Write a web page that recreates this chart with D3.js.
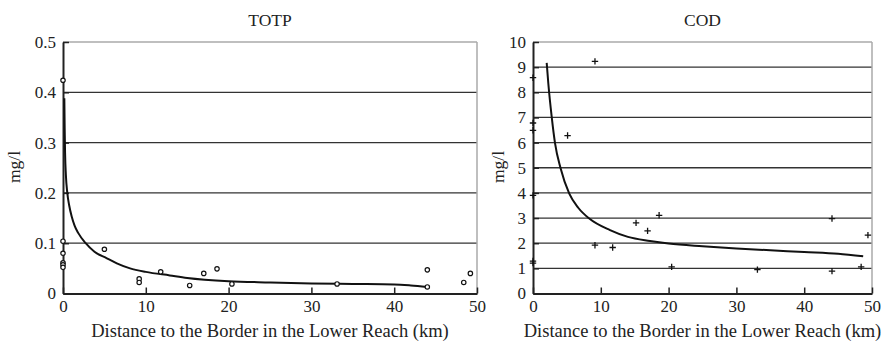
<!DOCTYPE html>
<html>
<head>
<meta charset="utf-8">
<script src="https://cdn.jsdelivr.net/npm/d3@7"></script>
<style>
  body { margin: 0; background: #fff; }
  svg text { font-family: "Liberation Serif", "Times New Roman", serif; fill: #222; }
  .tick text { font-size: 17px; }
  .domain { stroke: #222; stroke-width: 2; }
  .tick line { stroke: #222; stroke-width: 1.5; }
</style>
</head>
<body>
<div id="chart"></div>
<script>
var width = 885, height = 341;

// TOTP observations (km, mg/l)
var totpDist = [0, 0, 0, 0, 0, 0, 5, 9.2, 9.2, 11.8, 15.3, 17, 18.6, 20.4, 33.1, 44, 44, 48.4, 49.2];
var totpVal  = [0.424, 0.104, 0.08, 0.061, 0.057, 0.052, 0.088, 0.029, 0.022, 0.043, 0.016, 0.040, 0.049, 0.019, 0.019, 0.047, 0.013, 0.022, 0.040];
// TOTP fitted curve
var totpFitDist = [0.16, 0.2, 0.25, 0.35, 0.52, 0.75, 1.05, 1.4, 1.85, 2.74, 3.8, 5.3, 6.5, 8.1, 10, 12.9, 15, 20, 25, 30, 35, 40, 42, 44];
var totpFitVal  = [0.388, 0.33, 0.28, 0.235, 0.20, 0.175, 0.153, 0.135, 0.12, 0.10, 0.083, 0.07, 0.06, 0.05, 0.043, 0.036, 0.031, 0.0245, 0.022, 0.020, 0.019, 0.018, 0.016, 0.013];

// COD observations (km, mg/l)
var codDist = [0, 0, 0, 0, 0, 0, 5.1, 9.14, 9.14, 11.75, 15.2, 16.9, 18.6, 20.45, 33.1, 44.1, 44.1, 48.4, 49.4];
var codVal  = [8.58, 6.78, 6.49, 3.9, 1.29, 1.21, 6.28, 9.23, 1.92, 1.83, 2.81, 2.49, 3.11, 1.06, 0.95, 2.98, 0.89, 1.06, 2.32];
// COD fitted curve
var codFitDist = [2.02, 2.26, 2.76, 3.24, 4.08, 5.35, 6.7, 8.3, 11.36, 14, 17.26, 20, 25, 30, 35, 40, 45, 48.7];
var codFitVal  = [9.17, 8.35, 7.02, 5.99, 4.97, 3.97, 3.4, 2.98, 2.52, 2.25, 2.09, 1.99, 1.88, 1.79, 1.72, 1.65, 1.58, 1.48];

var xTicks = [0, 10, 20, 30, 40, 50];
var totpTicks = [0, 0.1, 0.2, 0.3, 0.4, 0.5];
var totpTickLabels = ["0", "0.1", "0.2", "0.3", "0.4", "0.5"];
var codTicks = [0, 1, 2, 3, 4, 5, 6, 7, 8, 9, 10];
var xLabel = "Distance to the Border in the Lower Reach (km)";

var svg = d3.select("#chart")
  .append("svg")
    .attr("width", width)
    .attr("height", height);

function panel(o) {
  var x = d3.scaleLinear().domain([0, 50]).range([o.left, o.right]);
  var y = d3.scaleLinear().domain(o.yDomain).range([293.5, 42]);
  var g = svg.append("g");

  // grid lines (top one is the light frame)
  g.selectAll("line.grid")
      .data(o.yTicks.slice(1))
    .enter().append("line")
      .attr("class", "grid")
      .attr("x1", o.left).attr("x2", o.right)
      .attr("y1", function(d) { return y(d); })
      .attr("y2", function(d) { return y(d); })
      .attr("stroke", function(d) { return d === o.yDomain[1] ? "#aaa" : "#333"; })
      .attr("stroke-width", function(d) { return d === o.yDomain[1] ? 1.5 : 1.3; });

  g.append("line")
      .attr("x1", o.right).attr("x2", o.right)
      .attr("y1", y(o.yDomain[1])).attr("y2", y(0))
      .attr("stroke", "#aaa").attr("stroke-width", 1.5);

  g.append("g")
      .attr("transform", "translate(0," + y(0) + ")")
      .call(d3.axisBottom(x).tickValues(xTicks).tickSize(-6).tickSizeOuter(0).tickPadding(6));

  g.append("g")
      .attr("transform", "translate(" + o.left + ",0)")
      .call(d3.axisLeft(y).tickValues(o.yTicks).tickSize(-6).tickSizeOuter(0).tickPadding(7)
        .tickFormat(function(d, i) { return o.yLabels[i]; }));

  var line = d3.line()
      .x(function(d) { return x(d[0]); })
      .y(function(d) { return y(d[1]); })
      .curve(d3.curveMonotoneX);

  g.append("path")
      .datum(d3.zip(o.fitDist, o.fitVal))
      .attr("d", line)
      .attr("fill", "none")
      .attr("stroke", "#111")
      .attr("stroke-width", 2);

  var pts = d3.zip(o.dist, o.val);
  if (o.marker === "circle") {
    g.selectAll("circle.pt")
        .data(pts)
      .enter().append("circle")
        .attr("class", "pt")
        .attr("cx", function(d) { return x(d[0]); })
        .attr("cy", function(d) { return y(d[1]); })
        .attr("r", 2.2)
        .attr("fill", "#fff")
        .attr("stroke", "#111")
        .attr("stroke-width", 1.2);
  } else {
    g.selectAll("path.pt")
        .data(pts)
      .enter().append("path")
        .attr("class", "pt")
        .attr("d", function(d) {
          var cx = x(d[0]), cy = y(d[1]), s = 3.2;
          return "M" + (cx - s) + "," + cy + "H" + (cx + s) + "M" + cx + "," + (cy - s) + "V" + (cy + s);
        })
        .attr("stroke", "#111")
        .attr("stroke-width", 1.3)
        .attr("fill", "none");
  }

  var cx = (o.left + o.right) / 2;
  g.append("text")
      .attr("x", cx).attr("y", 26)
      .attr("text-anchor", "middle")
      .attr("font-size", 17.5)
      .text(o.title);

  g.append("text")
      .attr("x", cx).attr("y", 337)
      .attr("text-anchor", "middle")
      .attr("font-size", 18.5)
      .text(xLabel);

  g.append("text")
      .attr("transform", "translate(" + o.yLabelX + "," + 167 + ") rotate(-90)")
      .attr("text-anchor", "middle")
      .attr("dy", "0.35em")
      .attr("font-size", 17.5)
      .text("mg/l");
}

panel({
  title: "TOTP", left: 63, right: 477, yDomain: [0, 0.5],
  yTicks: totpTicks, yLabels: totpTickLabels,
  dist: totpDist, val: totpVal, fitDist: totpFitDist, fitVal: totpFitVal,
  marker: "circle", yLabelX: 14
});

panel({
  title: "COD", left: 533, right: 872, yDomain: [0, 10],
  yTicks: codTicks, yLabels: codTicks.map(String),
  dist: codDist, val: codVal, fitDist: codFitDist, fitVal: codFitVal,
  marker: "plus", yLabelX: 498
});
</script>
</body>
</html>
